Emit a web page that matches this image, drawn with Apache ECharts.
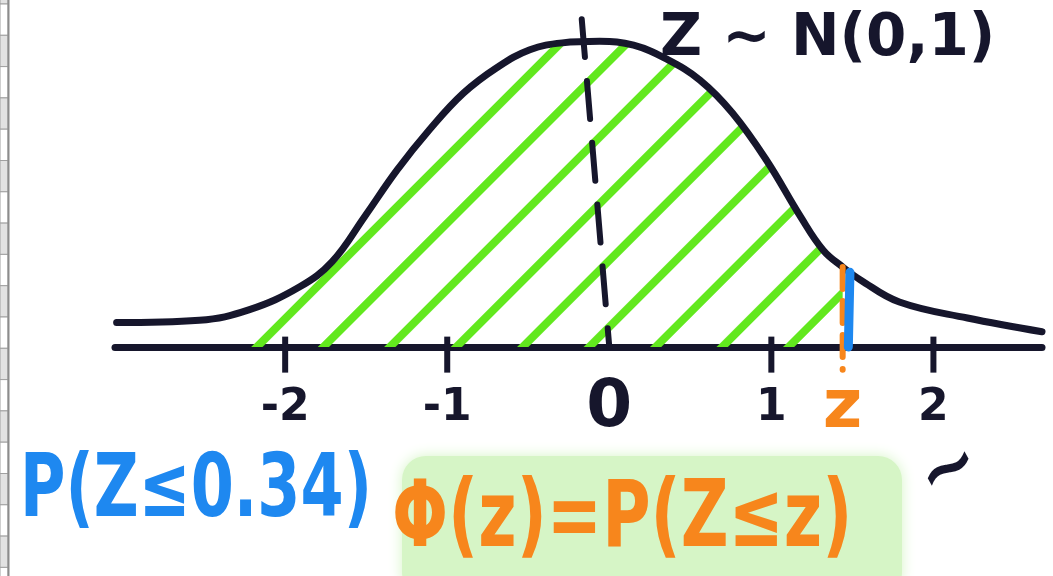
<!DOCTYPE html>
<html>
<head>
<meta charset="utf-8">
<script src="https://cdn.jsdelivr.net/npm/echarts@6/dist/echarts.min.js"></script>
<style>
html,body{margin:0;padding:0;background:#fff;}
#chart{width:1053px;height:576px;}
</style>
</head>
<body>
<div id="chart"></div>
<script>
// ---- data ----
const curveX = [-3.04,-2.53,-2.22,-1.91,-1.71,-1.51,-1.31,-1.11,-0.90,-0.69,-0.49,-0.29,-0.06,0.15,0.36,0.56,0.76,0.97,1.18,1.32,1.44,1.55,1.79,2.21,2.67];
const curveY = [0.032,0.035,0.049,0.079,0.112,0.171,0.232,0.285,0.333,0.367,0.390,0.399,0.401,0.396,0.377,0.350,0.307,0.245,0.171,0.127,0.105,0.088,0.059,0.038,0.020];
const tickValues = [-2, -1, 1, 2];
const labelValues = [-2, -1, 0, 1, 2];
const zValue = 1.44;
const hatchStart = -2.22;
const meanLine = [[-0.17, 0.43], [0, 0]];
const zLineBottom = -0.03;
const blueMark = [[1.485, 0.098], [1.475, 0.0]];
const titleText = 'Z ~ N(0,1)';
const probText = 'P(Z≤0.34)';
const cdfText = 'Φ(z)=P(Z≤z)';

// ---- styles ----
const NAVY = '#16162c';
const GREEN = '#62e81e';
const ORANGE = '#f7861c';
const BLUE = '#1e88f0';
const HIGHLIGHT = '#d6f5c6';
const FONT = '"DejaVu Sans", "Noto Sans", sans-serif';

const curve = curveX.map((x, i) => [x, curveY[i]]);
const hatch = curve.filter(p => p[0] >= hatchStart && p[0] <= zValue);
const zIdx = curveX.indexOf(zValue);
const zLine = [[zValue, curveY[zIdx]], [zValue, zLineBottom]];

const stripes = [];
for (let k = 0; k < 20; k++) {
  const y0 = 4 + (k - 1) * 31.3;
  stripes.push({
    type: 'rect', silent: true, z: 0,
    shape: { x: 0, y: y0, width: 8, height: 31.3 },
    style: { fill: (k % 2 === 1) ? '#ffffff' : '#e2e2e2', stroke: '#a0a0a0', lineWidth: 1 }
  });
}
stripes.push({ type: 'line', silent: true, shape: { x1: 8.5, y1: 0, x2: 8.5, y2: 576 }, style: { stroke: '#8c8c8c', lineWidth: 2 } });

const chart = echarts.init(document.getElementById('chart'), null, { renderer: 'canvas' });

const decal = {
  symbol: 'rect', symbolSize: 1, color: GREEN, backgroundColor: null,
  dashArrayX: [1, 0], dashArrayY: [8, 39], rotation: -Math.PI / 4
};

chart.setOption({
  animation: false,
  backgroundColor: '#ffffff',
  grid: { left: 115, right: 11, top: 4, bottom: 229 },
  xAxis: {
    type: 'value', min: -3.05, max: 2.67,
    axisLine: { show: true, onZero: true, lineStyle: { color: NAVY, width: 7, cap: 'round' } },
    axisTick: { show: false },
    splitLine: { show: false },
    axisLabel: {
      show: true,
      customValues: labelValues.concat([zValue]).sort((a, b) => a - b),
      margin: 62,
      verticalAlign: 'middle',
      formatter: function (v) {
        if (Math.abs(v - zValue) < 1e-6) return '{z|z}';
        if (v === 0) return '{zero|0}';
        return '{n|' + v + '}';
      },
      rich: {
        n: { fontFamily: FONT, fontWeight: 'bold', fontSize: 44, color: NAVY },
        zero: { fontFamily: FONT, fontWeight: 'bold', fontSize: 66, color: NAVY },
        z: { fontFamily: FONT, fontWeight: 'bold', fontSize: 68, color: ORANGE }
      }
    }
  },
  yAxis: { type: 'value', min: 0, max: 0.45, show: false, splitLine: { show: false } },
  series: [
    {
      type: 'line', data: hatch, smooth: 0.4, showSymbol: false, z: 1,
      lineStyle: { width: 0, decal: decal },
      itemStyle: { decal: decal },
      areaStyle: { color: 'rgba(255,255,255,0)', opacity: 1 },
      silent: true
    },
    {
      type: 'line', data: curve, smooth: 0.4, showSymbol: false, z: 5,
      lineStyle: { color: NAVY, width: 7, cap: 'round', join: 'round' },
      silent: true
    },
    {
      type: 'line', data: meanLine, showSymbol: false, clip: false, z: 4,
      lineStyle: { color: NAVY, width: 6, type: [38, 24], cap: 'round' },
      silent: true
    },
    {
      type: 'scatter', data: tickValues.map(v => [v, -0.01]), clip: false, z: 6,
      symbol: 'rect', symbolSize: [6, 36],
      itemStyle: { color: NAVY, opacity: 1 },
      silent: true
    },
    {
      type: 'line', data: zLine, showSymbol: false, clip: false, z: 7,
      lineStyle: { color: ORANGE, width: 6, type: [22, 12], cap: 'round' },
      silent: true
    },
    {
      type: 'line', data: blueMark, showSymbol: false, clip: false, z: 8,
      lineStyle: { color: BLUE, width: 9, cap: 'round' },
      silent: true
    }
  ],
  graphic: {
    elements: stripes.concat([
      {
        type: 'text', x: 660, y: 40, z: 10, silent: true,
        style: { text: titleText, fill: NAVY, font: 'bold 58px ' + FONT, align: 'left', verticalAlign: 'middle', textAlign: 'left', textVerticalAlign: 'middle' }
      },
      {
        type: 'text', x: 20, y: 493, scaleY: 1.4, z: 10, silent: true,
        style: { text: probText, fill: BLUE, font: 'bold 62px ' + FONT, align: 'left', verticalAlign: 'middle', textAlign: 'left', textVerticalAlign: 'middle' }
      },
      {
        type: 'rect', z: 9, silent: true,
        shape: { x: 402, y: 456, width: 500, height: 140, r: 24 },
        style: { fill: HIGHLIGHT, shadowBlur: 14, shadowColor: HIGHLIGHT }
      },
      {
        type: 'text', x: 392, y: 522, scaleY: 1.4, z: 10, silent: true,
        style: { text: cdfText, fill: ORANGE, font: 'bold 66px ' + FONT, align: 'left', verticalAlign: 'middle', textAlign: 'left', textVerticalAlign: 'middle' }
      },
      {
        type: 'text', x: 950, y: 472, rotation: 0.5, z: 10, silent: true,
        style: { text: '~', fill: NAVY, font: 'bold 72px ' + FONT, align: 'center', verticalAlign: 'middle', textAlign: 'center', textVerticalAlign: 'middle' }
      }
    ])
  }
});
</script>
</body>
</html>
